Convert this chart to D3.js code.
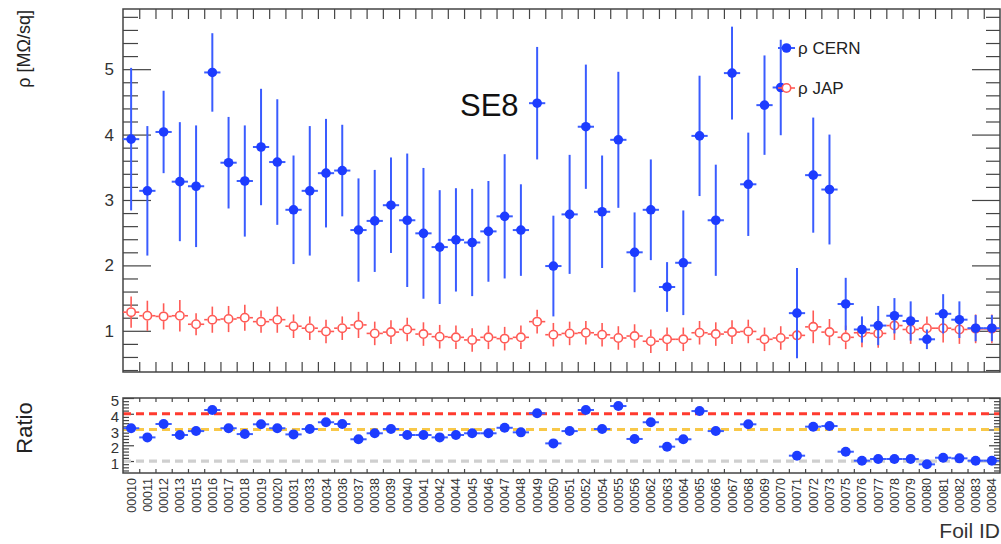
<!DOCTYPE html>
<html>
<head>
<meta charset="utf-8">
<script src="https://cdn.jsdelivr.net/npm/d3@7"></script>
<style>
  html, body { margin: 0; padding: 0; background: #fff; }
  svg { display: block; font-family: "Liberation Sans", Arial, Helvetica, sans-serif; }
  .axis path { display: none; }
  .axis line { stroke: #444; stroke-width: 1.2; }
  .axis text { fill: #333; }
</style>
</head>
<body>
<svg id="chart" width="1001" height="544"></svg>
<script>
// Foil identifiers along the x axis
const foils = ["00010","00011","00012","00013","00015","00016","00017","00018","00019","00020",
  "00031","00033","00034","00036","00037","00038","00039","00040","00041","00042",
  "00044","00045","00046","00047","00048","00049","00050","00051","00052","00054",
  "00055","00056","00062","00063","00064","00065","00066","00067","00068","00069",
  "00070","00071","00072","00073","00075","00076","00077","00078","00079","00080",
  "00081","00082","00083","00084"];

// Surface resistivity measured at CERN [MOhm/sq] and its uncertainty
const cern = [3.93,3.14,4.04,3.28,3.21,4.95,3.57,3.29,3.81,3.58,
  2.85,3.14,3.41,3.45,2.54,2.68,2.92,2.69,2.49,2.28,
  2.39,2.35,2.52,2.75,2.54,4.48,1.99,2.78,4.12,2.82,
  3.92,2.20,2.85,1.67,2.04,3.98,2.69,4.94,3.24,4.45,
  4.72,1.27,3.38,3.16,1.41,1.02,1.08,1.23,1.15,0.87,
  1.26,1.17,1.04,1.04];
const cernErr = [1.09,0.99,0.63,0.91,0.93,0.60,0.70,0.85,0.89,0.96,
  0.83,0.99,0.83,0.70,0.79,0.78,0.73,1.02,1.00,0.87,
  0.79,0.82,0.77,0.95,0.70,0.86,0.77,0.91,0.95,0.86,
  1.04,0.61,0.77,0.38,0.80,0.92,0.85,0.71,0.79,0.76,
  0.73,0.69,0.88,0.84,0.40,0.20,0.30,0.27,0.30,0.15,
  0.30,0.28,0.20,0.20];

// Surface resistivity measured in Japan [MOhm/sq] and its uncertainty
const jap = [1.285,1.23,1.22,1.23,1.10,1.17,1.18,1.20,1.14,1.17,
  1.07,1.04,0.99,1.04,1.09,0.96,0.98,1.02,0.95,0.91,
  0.90,0.86,0.90,0.88,0.90,1.14,0.94,0.96,0.97,0.94,
  0.89,0.92,0.84,0.87,0.87,0.97,0.95,0.98,0.99,0.87,
  0.89,0.93,1.06,0.98,0.90,0.97,0.96,1.08,1.02,1.04,
  1.04,1.02,1.03,1.03];
const japErr = [0.24,0.23,0.20,0.24,0.17,0.20,0.20,0.20,0.17,0.20,
  0.18,0.18,0.18,0.18,0.20,0.18,0.18,0.18,0.18,0.18,
  0.18,0.18,0.18,0.18,0.18,0.18,0.18,0.18,0.18,0.18,
  0.18,0.18,0.18,0.18,0.18,0.18,0.18,0.18,0.18,0.18,
  0.18,0.20,0.25,0.20,0.18,0.22,0.22,0.22,0.22,0.18,
  0.22,0.22,0.22,0.22];

// CERN / JAP ratio per foil
const ratio = [3.08,2.50,3.35,2.65,2.90,4.24,3.08,2.71,3.33,3.08,
  2.69,3.03,3.46,3.35,2.38,2.76,3.03,2.65,2.65,2.50,
  2.65,2.76,2.76,3.11,2.82,4.03,2.12,2.90,4.24,3.03,
  4.49,2.40,3.46,1.91,2.38,4.17,2.90,5.04,3.33,5.11,
  5.30,1.34,3.18,3.22,1.59,1.02,1.13,1.13,1.13,0.79,
  1.21,1.17,1.02,1.02];

// Reference levels in the ratio panel
const refLevels = [4, 3, 1];
const refColors = ["#ff3b2f", "#f8c848", "#cfcfcf"];

// Tick values
const rhoMajor = [1, 2, 3, 4, 5];
const ratioMajor = [1, 2, 3, 4, 5];

const svg = d3.select("#chart");
svg.append("rect").attr("width", 1001).attr("height", 544).attr("fill", "#fff");

const L = 123, R = 1000;
const top1 = 9, bot1 = 372;
const top2 = 398, bot2 = 473;

const xb = d3.scaleBand().domain(foils).range([L, R]).padding(0);
const xi = d3.scaleLinear().domain([0, foils.length]).range([L, R]);
const cx = f => xb(f) + xb.bandwidth() / 2;
const halfW = xb.bandwidth() / 2;

const y = d3.scaleLinear().domain([0.37, 5.92]).range([bot1, top1]);
const yr = d3.scaleLinear().domain([0.24, 5.0]).range([bot2, top2]);

const blue = "#1d3cff", blueErr = "#3a5cff", red = "#ff5a55";

// clip regions
const defs = svg.append("defs");
defs.append("clipPath").attr("id", "clipTop")
  .append("rect").attr("x", L).attr("y", top1).attr("width", R - L).attr("height", bot1 - top1);
defs.append("clipPath").attr("id", "clipBot")
  .append("rect").attr("x", L).attr("y", top2).attr("width", R - L).attr("height", bot2 - top2);

// ---------- axes: top panel ----------
const minorRho = d3.range(0.4, 5.81, 0.2).map(v => +v.toFixed(1)).filter(v => !rhoMajor.includes(v));
svg.append("g").attr("class", "axis").attr("transform", `translate(${L},0)`)
  .call(d3.axisLeft(y).tickValues(rhoMajor).tickSize(-28).tickPadding(9).tickFormat(d3.format("d")))
  .selectAll("text").attr("font-size", 17);
svg.append("g").attr("class", "axis").attr("transform", `translate(${L},0)`)
  .call(d3.axisLeft(y).tickValues(minorRho).tickSize(-15).tickFormat(""));
svg.append("g").attr("class", "axis").attr("transform", `translate(${R},0)`)
  .call(d3.axisRight(y).tickValues(rhoMajor).tickSize(-28).tickFormat(""));
svg.append("g").attr("class", "axis").attr("transform", `translate(${R},0)`)
  .call(d3.axisRight(y).tickValues(minorRho).tickSize(-14).tickFormat(""));
const edges = d3.range(1, foils.length);
svg.append("g").attr("class", "axis").attr("transform", `translate(0,${bot1})`)
  .call(d3.axisBottom(xi).tickValues(edges).tickSize(-10).tickFormat(""));
svg.append("g").attr("class", "axis").attr("transform", `translate(0,${top1})`)
  .call(d3.axisTop(xi).tickValues(edges).tickSize(-10).tickFormat(""));
svg.append("rect").attr("x", L).attr("y", top1).attr("width", R - L).attr("height", bot1 - top1)
  .attr("fill", "none").attr("stroke", "#444").attr("stroke-width", 1.5);

// ---------- top panel data ----------
const gTop = svg.append("g").attr("clip-path", "url(#clipTop)");
const rM = 4.8;

// JAP: open circles, error bars stop at the marker edge
const gJ = gTop.append("g").attr("stroke", red).attr("stroke-width", 1.6).attr("fill", "none");
foils.forEach((f, i) => {
  const X = cx(f), Y = y(jap[i]);
  gJ.append("line").attr("x1", X).attr("x2", X).attr("y1", y(jap[i] + japErr[i])).attr("y2", Y - rM);
  gJ.append("line").attr("x1", X).attr("x2", X).attr("y1", Y + rM).attr("y2", y(jap[i] - japErr[i]));
  gJ.append("line").attr("x1", X - halfW).attr("x2", X - rM).attr("y1", Y).attr("y2", Y);
  gJ.append("line").attr("x1", X + rM).attr("x2", X + halfW).attr("y1", Y).attr("y2", Y);
  gJ.append("circle").attr("cx", X).attr("cy", Y).attr("r", rM - 0.6).attr("fill", "#fff");
});

// CERN: filled circles with error bars
const gC = gTop.append("g");
foils.forEach((f, i) => {
  const X = cx(f), Y = y(cern[i]);
  gC.append("line").attr("x1", X).attr("x2", X)
    .attr("y1", y(cern[i] + cernErr[i])).attr("y2", y(cern[i] - cernErr[i]))
    .attr("stroke", blueErr).attr("stroke-width", 2);
  gC.append("line").attr("x1", X - halfW).attr("x2", X + halfW).attr("y1", Y).attr("y2", Y)
    .attr("stroke", blueErr).attr("stroke-width", 2);
  gC.append("circle").attr("cx", X).attr("cy", Y).attr("r", rM).attr("fill", blue);
});

// title tag
svg.append("text").attr("x", 460).attr("y", 116).attr("font-size", 31).attr("fill", "#111").text("SE8");

// legend
const lg = svg.append("g");
lg.append("line").attr("x1", 778).attr("x2", 795).attr("y1", 48).attr("y2", 48).attr("stroke", blueErr).attr("stroke-width", 2);
lg.append("circle").attr("cx", 786.5).attr("cy", 48).attr("r", rM).attr("fill", blue);
lg.append("text").attr("x", 798).attr("y", 54).attr("font-size", 17).attr("fill", "#222").text("ρ CERN");
lg.append("line").attr("x1", 778).attr("x2", 795).attr("y1", 88).attr("y2", 88).attr("stroke", red).attr("stroke-width", 1.6);
lg.append("circle").attr("cx", 786.5).attr("cy", 88).attr("r", rM - 0.6).attr("fill", "#fff").attr("stroke", red).attr("stroke-width", 1.6);
lg.append("text").attr("x", 798).attr("y", 94).attr("font-size", 17).attr("fill", "#222").text("ρ JAP");

// y title
svg.append("text").attr("transform", "translate(30,10) rotate(-90)").attr("text-anchor", "end")
  .attr("font-size", 18).attr("fill", "#222").text("ρ [MΩ/sq]");

// ---------- ratio panel ----------
const minorRatio = d3.range(0.4, 5.0, 0.2).map(v => +v.toFixed(1)).filter(v => !ratioMajor.includes(v));
svg.append("g").attr("class", "axis").attr("transform", `translate(${L},0)`)
  .call(d3.axisLeft(yr).tickValues(ratioMajor).tickSize(-11).tickPadding(4).tickFormat(d3.format("d")))
  .selectAll("text").attr("font-size", 15).attr("dy", "0.5em");
svg.append("g").attr("class", "axis").attr("transform", `translate(${L},0)`)
  .call(d3.axisLeft(yr).tickValues(minorRatio).tickSize(-6).tickFormat(""));
svg.append("g").attr("class", "axis").attr("transform", `translate(${R},0)`)
  .call(d3.axisRight(yr).tickValues(ratioMajor).tickSize(-11).tickFormat(""));
svg.append("g").attr("class", "axis").attr("transform", `translate(${R},0)`)
  .call(d3.axisRight(yr).tickValues(minorRatio).tickSize(-6).tickFormat(""));
svg.append("g").attr("class", "axis").attr("transform", `translate(0,${bot2})`)
  .call(d3.axisBottom(xi).tickValues(edges).tickSize(-4).tickFormat(""));
svg.append("g").attr("class", "axis").attr("transform", `translate(0,${top2})`)
  .call(d3.axisTop(xi).tickValues(edges).tickSize(-4).tickFormat(""));

const gBot = svg.append("g").attr("clip-path", "url(#clipBot)");
refLevels.forEach((v, k) => {
  gBot.append("line").attr("x1", L).attr("x2", R).attr("y1", yr(v)).attr("y2", yr(v))
    .attr("stroke", refColors[k]).attr("stroke-width", 3.2).attr("stroke-dasharray", "8,5");
});
foils.forEach((f, i) => {
  if (ratio[i] > yr.domain()[1]) return; // off-scale points are not drawn
  const X = cx(f), Y = yr(ratio[i]);
  gBot.append("line").attr("x1", X - halfW).attr("x2", X + halfW).attr("y1", Y).attr("y2", Y)
    .attr("stroke", blueErr).attr("stroke-width", 2);
  gBot.append("circle").attr("cx", X).attr("cy", Y).attr("r", 5).attr("fill", blue);
});
svg.append("rect").attr("x", L).attr("y", top2).attr("width", R - L).attr("height", bot2 - top2)
  .attr("fill", "none").attr("stroke", "#444").attr("stroke-width", 1.5);

svg.append("text").attr("transform", "translate(32,428) rotate(-90)").attr("text-anchor", "middle")
  .attr("font-size", 22).attr("fill", "#222").text("Ratio");

// foil labels, rotated
const gl = svg.append("g");
foils.forEach(f => {
  gl.append("text").attr("transform", `translate(${cx(f) + 4.5},478) rotate(-90)`)
    .attr("text-anchor", "end").attr("font-size", 12.5).attr("fill", "#333").text(f);
});
svg.append("text").attr("x", 1000).attr("y", 538).attr("text-anchor", "end")
  .attr("font-size", 21).attr("fill", "#333").text("Foil ID");
</script>
</body>
</html>
